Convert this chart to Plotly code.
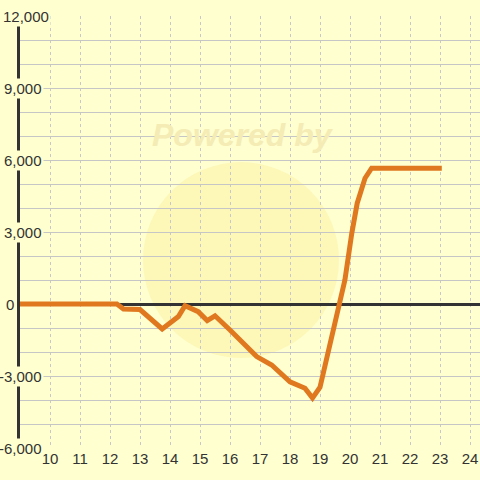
import plotly.graph_objects as go

# ---- data ----
x_vals = [9, 12.23, 12.45, 13.0, 13.74, 14.28, 14.5, 14.94, 15.24, 15.5, 16.0,
          16.89, 17.39, 18.0, 18.5, 18.75, 19.0, 19.15, 19.64, 19.83, 20.06,
          20.24, 20.5, 20.72, 23.06]
y_vals = [0, 0, -210, -230, -1040, -520, -70, -320, -690, -490, -1080,
          -2190, -2540, -3240, -3510, -3920, -3470, -2650, 0, 1000, 2950,
          4200, 5240, 5660, 5660]
x_ticks = list(range(10, 25))
y_label_vals = [12000, 9000, 6000, 3000, 0, -3000, -6000]
y_label_text = ["12,000", "9,000", "6,000", "3,000", "0", "-3,000", "-6,000"]

BG = "#FFFFD0"
FONT = "Liberation Sans, Arial, sans-serif"
W, H = 480, 480
ML, MR, MT, MB = 20, 0, 16, 32
PW, PH = W - ML - MR, H - MT - MB
PLOT_BOTTOM = H - MB


def px_x(p):
    return (p - ML) / PW


def px_y(p):
    return (PLOT_BOTTOM - p) / PH


fig = go.Figure()
fig.add_trace(go.Scatter(
    x=x_vals, y=y_vals, mode="lines",
    line=dict(color="#E0781F", width=5),
    hoverinfo="skip", showlegend=False,
))

# watermark circle
cx, cy, r = 241, 260, 98
fig.add_shape(type="circle", xref="paper", yref="paper",
              x0=px_x(cx - r), x1=px_x(cx + r),
              y0=px_y(cy + r), y1=px_y(cy - r),
              fillcolor="rgba(248,222,100,0.22)", line=dict(width=0),
              layer="below")

annotations = [dict(
    text="Powered by", xref="paper", yref="paper",
    x=px_x(243), y=px_y(135),
    xanchor="center", yanchor="middle", showarrow=False,
    font=dict(family=FONT, size=32, color="#F4ECB4", weight="bold", style="italic"),
)]

# y labels (right edges in pixels)
right_px = {"12,000": 51, "0": 16}
for v, t in zip(y_label_vals, y_label_text):
    rp = right_px.get(t, 44)
    annotations.append(dict(
        text=t, xref="paper", yref="y", x=px_x(rp), y=v,
        xanchor="right", yanchor="middle", showarrow=False,
        font=dict(family=FONT, size=15, color="#333333"),
        bgcolor=BG if t != "0" else None, borderpad=1,
    ))

fig.update_layout(
    width=W, height=H,
    margin=dict(l=ML, r=MR, t=MT, b=MB, pad=0),
    paper_bgcolor=BG, plot_bgcolor=BG,
    annotations=annotations,
    xaxis=dict(
        range=[9, 9 + PW / 30], tickvals=x_ticks, ticktext=[str(t) for t in x_ticks],
        showgrid=True, gridcolor="#C8C8C8", gridwidth=1, griddash="3px,3px",
        zeroline=False, showline=False, ticks="",
        tickfont=dict(family=FONT, size=15, color="#333333"),
        fixedrange=True,
    ),
    yaxis=dict(
        range=[-6000, 12000], dtick=1000, tick0=0,
        showgrid=True, gridcolor="#C6C6C6", gridwidth=1,
        zeroline=True, zerolinecolor="#333333", zerolinewidth=3,
        showline=True, linecolor="#333333", linewidth=3,
        showticklabels=False, ticks="",
        fixedrange=True,
    ),
)

fig.write_html(
    "out.html",
    config={"displayModeBar": False},
    post_script="document.body.style.margin='0';document.body.style.padding='0';"
                "document.body.style.overflow='hidden';"
                "document.documentElement.style.overflow='hidden';",
)
